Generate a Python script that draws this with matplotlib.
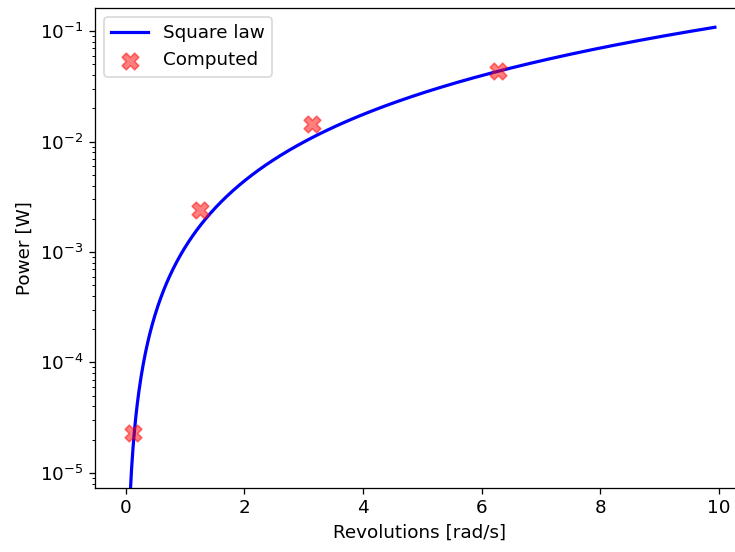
import numpy as np
import matplotlib
matplotlib.use("Agg")
import matplotlib.pyplot as plt

# Computed points
computed_x = [0.126, 1.257, 3.142, 6.283]
computed_y = [2.3e-5, 2.4e-3, 1.45e-2, 4.35e-2]

# Square-law reference curve: P = k * w^2
square_k = 0.0011
curve_x_start = 0.05
curve_x_end = 9.93

plt.rcParams['font.size'] = 11.5

DPI = 115
fig = plt.figure(figsize=(735 / DPI, 552 / DPI), dpi=DPI)
ax = fig.add_axes([0.129, 0.116, 0.884, 0.870])

w = np.linspace(curve_x_start, curve_x_end, 800)
ax.plot(w, square_k * w ** 2, color='blue', lw=2, label='Square law')
ax.scatter(computed_x, computed_y, marker='X', s=110, color='red', alpha=0.5,
           label='Computed', zorder=3)

ax.set_yscale('log')
ax.set_xlim(-0.52, 10.43)
ax.set_ylim(7.3e-6, 0.163)
ax.set_xlabel('Revolutions [rad/s]')
ax.set_ylabel('Power [W]')
ax.legend(loc='upper left')

fig.savefig('out.png', dpi=DPI)
